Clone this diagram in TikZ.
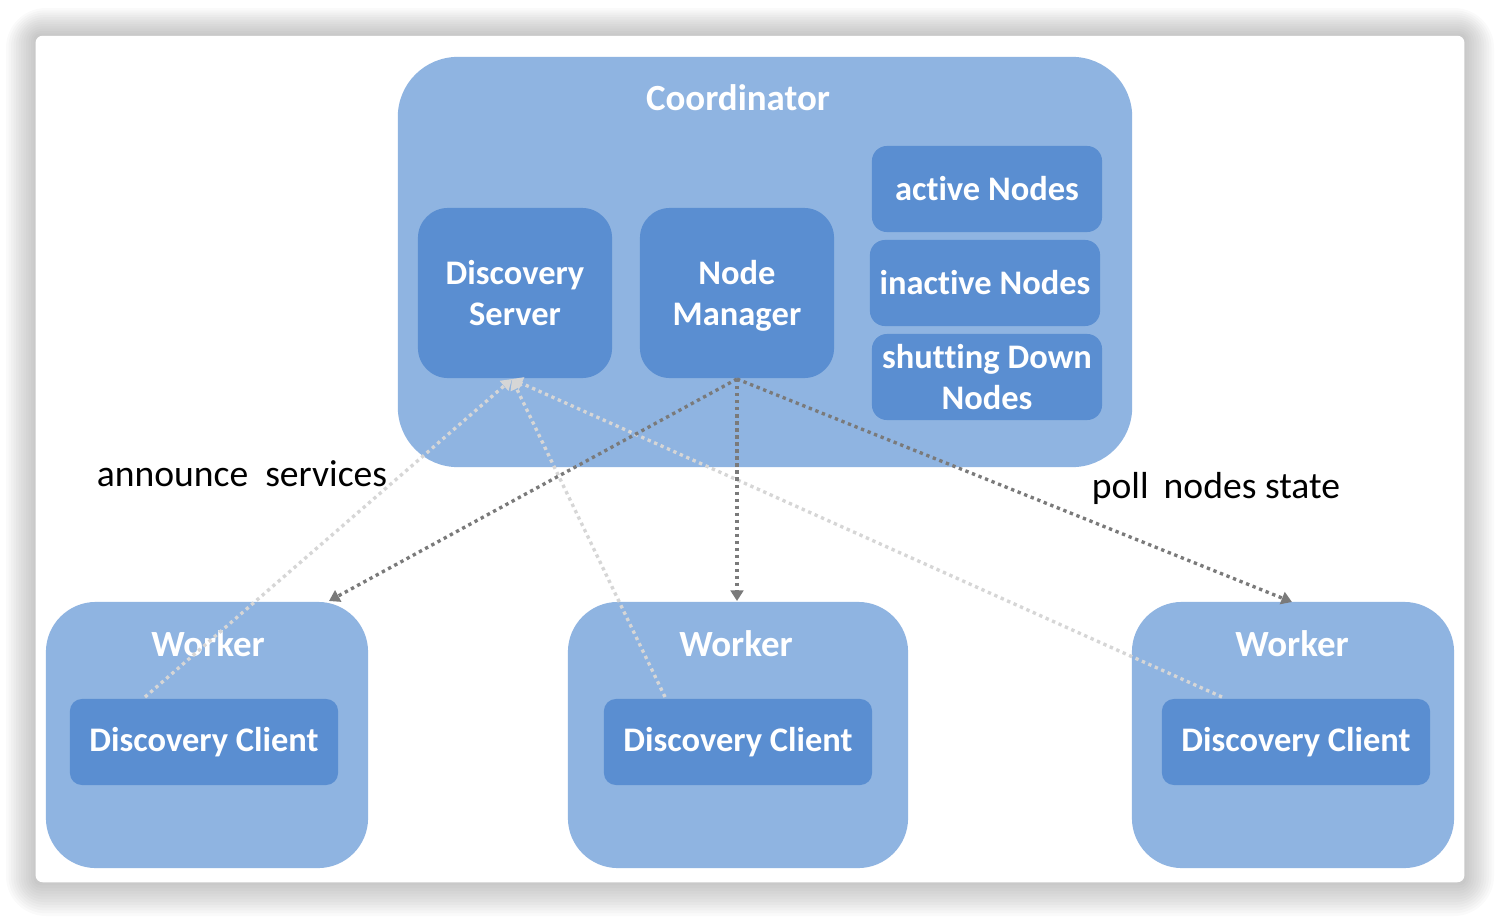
\documentclass[tikz,border=0pt]{standalone}
\usepackage{fontspec}
\setmainfont{Carlito}[Ligatures=NoCommon]
\usetikzlibrary{arrows.meta}
\definecolor{outerblue}{HTML}{8FB4E1}
\definecolor{innerblue}{HTML}{5A8ED1}
\definecolor{darkdot}{HTML}{7A7A7A}
\definecolor{lightdot}{HTML}{D6D6D6}
\tikzset{
  bigbox/.style={fill=outerblue, draw=none, rounded corners=#1, inner sep=0pt},
  smallbox/.style={fill=innerblue, draw=none, rounded corners=#1, text=white, font=\fontsize{9.8}{11.9}\selectfont\bfseries, align=center, inner sep=0pt},
  titletext/.style={text=white, font=\fontsize{10.5}{12.6}\selectfont\bfseries, inner sep=0pt},
  labeltext/.style={text=black, font=\fontsize{10.7}{13}\selectfont, inner sep=0pt},
  pollarrow/.style={draw=darkdot, line width=0.95pt, dash pattern=on 0.95pt off 1.05pt, -{Triangle[length=3pt,width=3.6pt]}},
  announcearrow/.style={draw=lightdot, line width=0.95pt, dash pattern=on 0.95pt off 1.05pt, -{Triangle[length=3pt,width=3.6pt]}}
}
\begin{document}
\begin{tikzpicture}[x=0.01cm,y=-0.01cm]
\useasboundingbox (0,0) rectangle (1500,918);
% shadow of the card
\foreach \i in {0,...,11}{
  \fill[black, opacity=0.018, rounded corners={(40-3*\i)*0.1mm}] ({36-30+2.5*\i},{36-28+2.3*\i}) rectangle ({1464+30-2.5*\i},{882+34-2.8*\i});
}
% card
\node[fill=white, draw=none, rounded corners=0.7mm, minimum width=142.8mm, minimum height=84.6mm, inner sep=0pt] (card) at (750,459) {};
% coordinator
\node[bigbox=6mm, minimum width=73.4mm, minimum height=41mm] (coord) at (765,262) {};
\node[titletext] (coordT) at (738,98) {Coordinator};
\node[smallbox=3mm, minimum width=19.4mm, minimum height=17mm] (ds) at (515,293) {Discovery\\Server};
\node[smallbox=3mm, minimum width=19.4mm, minimum height=17mm] (nm) at (737,293) {Node\\Mana\smash{g}er};
\node[smallbox=1.5mm, minimum width=23mm, minimum height=8.6mm] (act) at (987,189) {active Nodes};
\node[smallbox=1.5mm, minimum width=23mm, minimum height=8.6mm] (inact) at (985,283) {inactive Nodes};
\node[smallbox=1.5mm, minimum width=23mm, minimum height=8.6mm] (shut) at (987,377) {shutting Down\\Nodes};
% workers
\node[bigbox=5mm, minimum width=32.2mm, minimum height=26.6mm] (wL) at (207,735) {};
\node[bigbox=5mm, minimum width=34mm, minimum height=26.6mm] (wM) at (738,735) {};
\node[bigbox=5mm, minimum width=32.2mm, minimum height=26.6mm] (wR) at (1293,735) {};
\node[titletext] (wLT) at (208,644) {Worker};
\node[titletext] (wMT) at (736,644) {Worker};
\node[titletext] (wRT) at (1292,644) {Worker};
\node[smallbox=1.2mm, minimum width=26.8mm, minimum height=8.6mm] (cL) at (204,742) {Discovery Client};
\node[smallbox=1.2mm, minimum width=26.8mm, minimum height=8.6mm] (cM) at (738,742) {Discovery Client};
\node[smallbox=1.2mm, minimum width=26.8mm, minimum height=8.6mm] (cR) at (1296,742) {Discovery Client};
% labels
\node[labeltext] (ann) at (242,474) {announce\hspace{0.45em}services};
\node[labeltext] (poll) at (1216,488) {poll\hspace{0.4em}nodes state};
% connector end points
\coordinate (nmOut) at (737,379);
\coordinate (dsIn) at (512,379);
\coordinate (wLin) at (329,601);
\coordinate (wMin) at (737,601);
\coordinate (wRin) at (1292,602);
\coordinate (cLout) at (145,697);
\coordinate (cMout) at (665,697);
\coordinate (cRout) at (1222,697);
% connectors
\draw[announcearrow] (cLout) -- (dsIn);
\draw[announcearrow] (cMout) -- (dsIn);
\draw[announcearrow] (cRout) -- (dsIn);
\draw[pollarrow] (nmOut) -- (wLin);
\draw[pollarrow] (nmOut) -- (wMin);
\draw[pollarrow] (nmOut) -- (wRin);
\end{tikzpicture}
\end{document}
